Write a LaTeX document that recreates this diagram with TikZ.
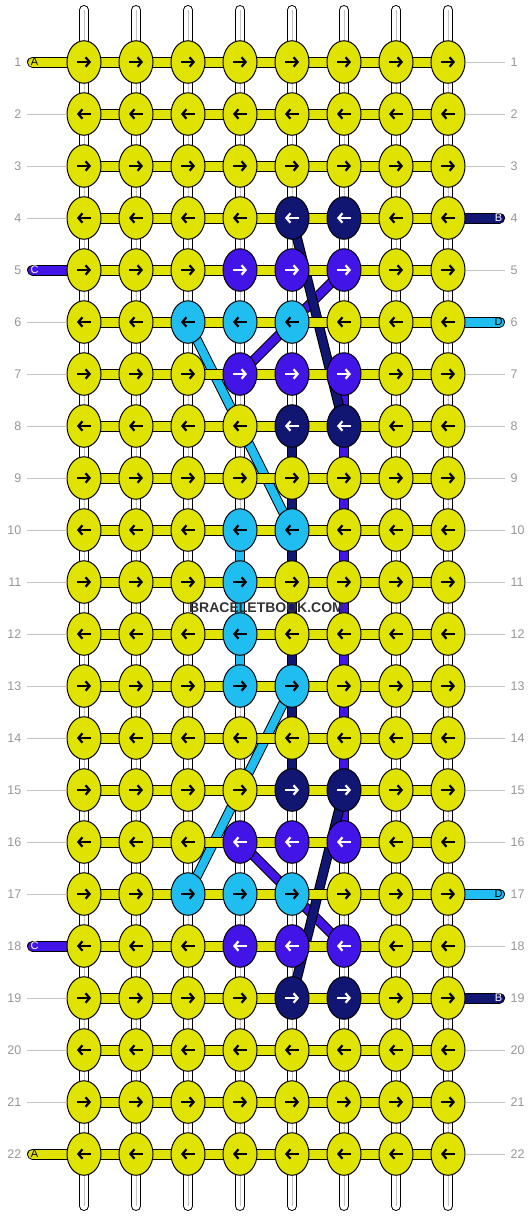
\documentclass[tikz,border=0pt]{standalone}
\usepackage{fontspec}
\setmainfont{Liberation Sans}
\usetikzlibrary{shapes.geometric,arrows.meta,backgrounds}

\definecolor{yarnyellow}{RGB}{224,226,0}
\definecolor{yarnnavy}{RGB}{18,22,115}
\definecolor{yarnviolet}{RGB}{67,20,232}
\definecolor{yarnsky}{RGB}{32,190,240}
\definecolor{numgray}{RGB}{150,150,150}
\definecolor{guidegray}{RGB}{195,195,195}
\definecolor{markgray}{RGB}{50,50,50}

\tikzset{
  knot/.style={ellipse, draw=black, line width=1pt, fill=#1,
    minimum width=34pt, minimum height=42.5pt, inner sep=0pt},
  knot/.default=yarnyellow,
  knotarrow/.style={line width=2.2pt, -{Straight Barb[length=4pt,width=9.5pt]}},
  warp/.style={draw=black, line width=1pt, double=white, double distance=8pt, line cap=round},
  yarn/.style={draw=black, line width=1pt, double=#1, double distance=8pt},
  rowbar/.style={draw=black, line width=1pt, double=#1, double distance=9pt},
  rowbar/.default=yarnyellow,
  rownum/.style={text=numgray, font=\fontsize{12.5}{13}\selectfont, inner sep=0pt},
  taillabel/.style={font=\fontsize{11}{11}\selectfont, inner sep=0pt}
}

\begin{document}
\begin{tikzpicture}[x=1pt,y=-1pt]
\useasboundingbox (0,0) rectangle (532,1216);

% coloured knots: row/col/fill/arrow
\foreach \r/\c/\kf/\ka in {4/5/yarnnavy/white,4/6/yarnnavy/white,
    5/4/yarnviolet/white,5/5/yarnviolet/white,5/6/yarnviolet/white,
    6/3/yarnsky/black,6/4/yarnsky/black,6/5/yarnsky/black,
    7/4/yarnviolet/white,7/5/yarnviolet/white,7/6/yarnviolet/white,
    8/5/yarnnavy/white,8/6/yarnnavy/white,
    10/4/yarnsky/black,10/5/yarnsky/black,11/4/yarnsky/black,
    12/4/yarnsky/black,13/4/yarnsky/black,13/5/yarnsky/black,
    15/5/yarnnavy/white,15/6/yarnnavy/white,
    16/4/yarnviolet/white,16/5/yarnviolet/white,16/6/yarnviolet/white,
    17/3/yarnsky/black,17/4/yarnsky/black,17/5/yarnsky/black,
    18/4/yarnviolet/white,18/5/yarnviolet/white,18/6/yarnviolet/white,
    19/5/yarnnavy/white,19/6/yarnnavy/white}
  {\expandafter\xdef\csname kf\r-\c\endcsname{\kf}%
   \expandafter\xdef\csname ka\r-\c\endcsname{\ka}}

% knots
\foreach \r in {1,...,22}
  \foreach \c in {1,...,8} {
    \ifcsname kf\r-\c\endcsname \edef\kfill{\csname kf\r-\c\endcsname}\else\def\kfill{yarnyellow}\fi
    \node[knot=\kfill] (k-\r-\c) at ({84+52*(\c-1)},{62+52*(\r-1)}) {};
  }

% arrows, odd rows right, even rows left
\foreach \r in {1,...,22}
  \foreach \c in {1,...,8} {
    \ifcsname ka\r-\c\endcsname \edef\karrow{\csname ka\r-\c\endcsname}\else\def\karrow{black}\fi
    \ifodd\r\relax
      \draw[knotarrow,\karrow] ([xshift=-7pt]k-\r-\c.center) -- ([xshift=7pt]k-\r-\c.center);
    \else
      \draw[knotarrow,\karrow] ([xshift=7pt]k-\r-\c.center) -- ([xshift=-7pt]k-\r-\c.center);
    \fi
  }

\begin{pgfonlayer}{background}
  % warp strings
  \foreach \c in {1,...,8} {
    \coordinate (top-\c) at ({84+52*(\c-1)},10);
    \coordinate (bot-\c) at ({84+52*(\c-1)},1206);
    \draw[warp] (top-\c) -- (bot-\c);
    \draw[guidegray, line width=0.6pt] (top-\c) -- (bot-\c);
  }

  % coloured runs down the warp
  \draw[yarn=yarnsky] (k-10-4.center) -- (k-13-4.center);
  \draw[yarn=yarnnavy] (k-8-5.center) -- (k-15-5.center);
  \draw[yarn=yarnviolet] (k-7-6.center) -- (k-16-6.center);

  % diagonal runs
  \draw[yarn=yarnsky] (k-6-3.center) -- (k-10-5.center);
  \draw[yarn=yarnsky] (k-13-5.center) -- (k-17-3.center);
  \draw[yarn=yarnviolet] (k-5-6.center) -- (k-7-4.center);
  \draw[yarn=yarnviolet] (k-16-4.center) -- (k-18-6.center);
  \draw[yarn=yarnnavy] (k-4-5.center) -- (k-8-6.center);
  \draw[yarn=yarnnavy] (k-15-6.center) -- (k-19-5.center);

  % rows
  \foreach \r in {1,...,22}
    \draw[rowbar] (k-\r-1.center) -- (k-\r-8.center);

  % loose ends
  \foreach \r/\yc in {1/yarnyellow,5/yarnviolet,18/yarnviolet,22/yarnyellow} {
    \coordinate (endL-\r) at (32.5,{62+52*(\r-1)});
    \draw[rowbar=\yc, line cap=round] (endL-\r) -- (k-\r-1.center);
  }
  \foreach \r/\yc in {4/yarnnavy,6/yarnsky,17/yarnsky,19/yarnnavy} {
    \coordinate (endR-\r) at (499.5,{62+52*(\r-1)});
    \draw[rowbar=\yc, line cap=round] (k-\r-8.center) -- (endR-\r);
  }
\end{pgfonlayer}

% end letters
\foreach \r/\t/\tc in {1/A/black,5/C/white,18/C/white,22/A/black}
  \node[taillabel, text=\tc] (labL-\r) at ([xshift=2pt]endL-\r) {\t};
\foreach \r/\t/\tc in {4/B/white,6/D/black,17/D/black,19/B/white}
  \node[taillabel, text=\tc] (labR-\r) at ([xshift=-1pt]endR-\r) {\t};

% guide lines where no end comes out
\foreach \r in {2,3,4,6,7,8,9,10,11,12,13,14,15,16,17,19,20,21} {
  \coordinate (gl-\r) at (27,{62+52*(\r-1)});
  \draw[guidegray, line width=0.8pt] (gl-\r) -- (k-\r-1.west);
}
\foreach \r in {1,2,3,5,7,8,9,10,11,12,13,14,15,16,18,20,21,22} {
  \coordinate (gr-\r) at (505,{62+52*(\r-1)});
  \draw[guidegray, line width=0.8pt] (k-\r-8.east) -- (gr-\r);
}

% row numbers
\foreach \r in {1,...,22} {
  \node[rownum, anchor=east] (nl-\r) at (21.5,{62+52*(\r-1)}) {\r};
  \node[rownum, anchor=west] (nr-\r) at (510.5,{62+52*(\r-1)}) {\r};
}

\node[font=\bfseries\fontsize{14}{14}\selectfont, text=markgray] (watermark) at (266.5,607.5) {BRACELETBOOK.COM};
\end{tikzpicture}
\end{document}
